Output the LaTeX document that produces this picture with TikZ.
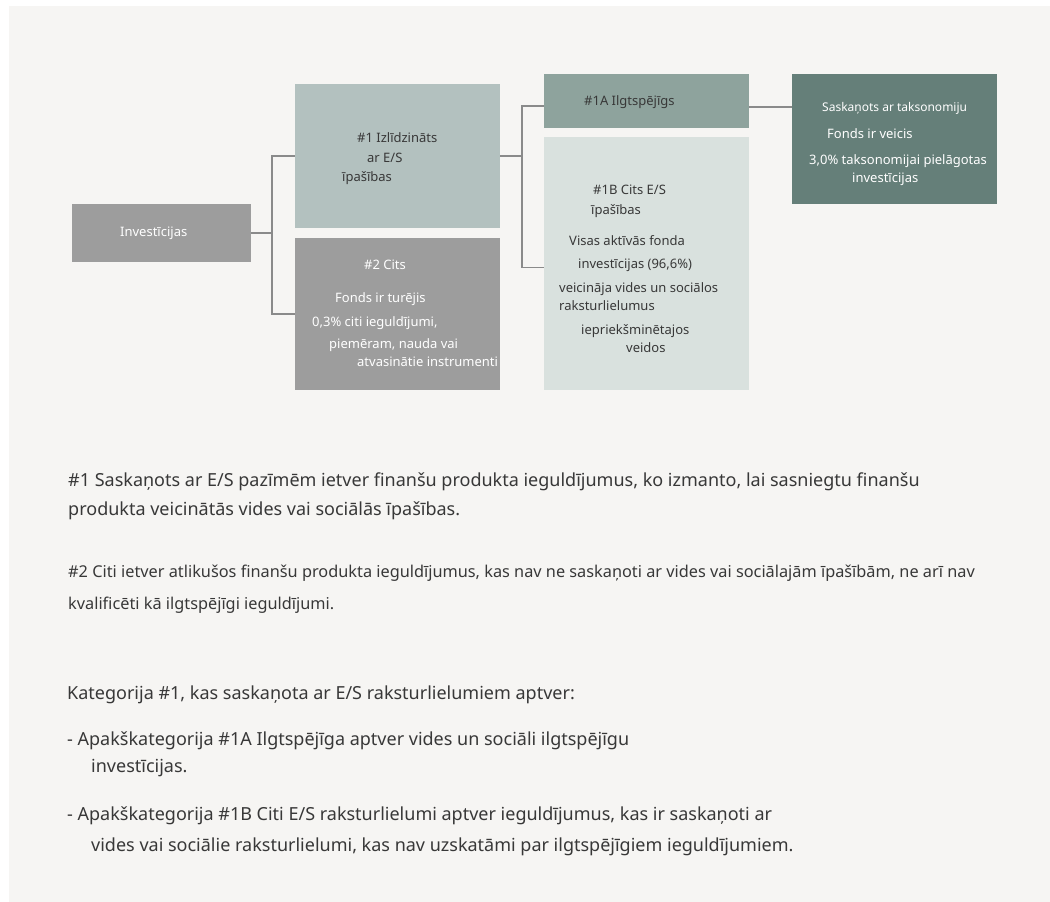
\documentclass[tikz,border=0pt]{standalone}
\usepackage{fontspec}
\setmainfont{Noto Sans}
\definecolor{panelbg}{HTML}{F6F5F3}
\definecolor{boxgray}{HTML}{9D9D9D}
\definecolor{boxsage}{HTML}{B3C1BF}
\definecolor{boxmint}{HTML}{8EA39D}
\definecolor{boxpale}{HTML}{D9E1DE}
\definecolor{boxpine}{HTML}{657F79}
\definecolor{linegray}{HTML}{8A8A8A}
\definecolor{inkdark}{HTML}{383838}

\begin{document}
\begin{tikzpicture}[x=1pt,y=-1pt,
  box/.style={inner sep=0pt,outer sep=0pt},
  conn/.style={draw=linegray,line width=1.3pt},
  txt/.style={inner sep=0pt,text height=.75em,text depth=.25em,anchor=west,yshift=-3pt,font=\fontsize{13}{15}\selectfont},
  wtxt/.style={txt,text=white},
  dtxt/.style={txt,text=inkdark},
  body/.style={inner sep=0pt,text height=.75em,text depth=.25em,anchor=west,yshift=-3.5pt,text=inkdark,font=\fontsize{18}{21}\selectfont},
  note/.style={body,font=\fontsize{16.3}{19}\selectfont}]
\useasboundingbox (0,0) rectangle (1050,902);
\fill[panelbg] (9,6) rectangle (1050,902);
% boxes
\node[box,fill=boxgray,minimum width=179pt,minimum height=58pt] (inv) at (161.5,233) {};
\node[box,fill=boxsage,minimum width=205pt,minimum height=144pt] (es) at (397.5,156) {};
\node[box,fill=boxgray,minimum width=205pt,minimum height=152pt] (oth) at (397.5,314) {};
\node[box,fill=boxmint,minimum width=205pt,minimum height=54pt] (s1a) at (646.5,101) {};
\node[box,fill=boxpale,minimum width=205pt,minimum height=253pt] (s1b) at (646.5,263.5) {};
\node[box,fill=boxpine,minimum width=205pt,minimum height=130pt] (tax) at (894.5,139) {};
% connectors
\draw[conn] (inv.east) -- ++(21,0) coordinate (j1) |- (es.west);
\draw[conn] (j1) |- (oth.west);
\draw[conn] (es.east) -- ++(22,0) coordinate (j2) |- ([yshift=-5pt]s1a.west);
\draw[conn] (j2) |- ([yshift=-4pt]s1b.west);
\draw[conn] ([yshift=-6pt]s1a.east) -- ([yshift=-6pt]s1a.east -| tax.west);
% box texts
\node[wtxt] (inv-t) at (120,231) {Investīcijas};
\node[dtxt] (es-t1) at (357,137) {\#1 Izlīdzināts};
\node[dtxt] (es-t2) at (367,157) {ar E/S};
\node[dtxt] (es-t3) at (342,176) {īpašības};
\node[wtxt] (oth-t1) at (364,264) {\#2 Cits};
\node[wtxt] (oth-t2) at (335,297) {Fonds ir turējis};
\node[wtxt] (oth-t3) at (312,321) {0,3\% citi ieguldījumi,};
\node[wtxt] (oth-t4) at (329,343) {piemēram, nauda vai};
\node[wtxt] (oth-t5) at (357,361) {atvasinātie instrumenti};
\node[dtxt] (s1a-t) at (584,100) {\#1A Ilgtspējīgs};
\node[wtxt,font=\fontsize{12}{14}\selectfont] (tax-t1) at (822,106) {Saskaņots ar taksonomiju};
\node[wtxt] (tax-t2) at (827,133) {Fonds ir veicis};
\node[wtxt] (tax-t3) at (809,159) {3,0\% taksonomijai pielāgotas};
\node[wtxt] (tax-t4) at (852,177) {investīcijas};
\node[dtxt] (s1b-t1) at (593,189) {\#1B Cits E/S};
\node[dtxt] (s1b-t2) at (591,209) {īpašības};
\node[dtxt] (s1b-t3) at (569,240) {Visas aktīvās fonda};
\node[dtxt] (s1b-t4) at (578,263) {investīcijas (96,6\%)};
\node[dtxt] (s1b-t5) at (559,287) {veicināja vides un sociālos};
\node[dtxt] (s1b-t6) at (559,305) {raksturlielumus};
\node[dtxt] (s1b-t7) at (581,329) {iepriekšminētajos};
\node[dtxt] (s1b-t8) at (626,347) {veidos};
% notes below
\node[body] (n1a) at (68,480) {\#1 Saskaņots ar E/S pazīmēm ietver finanšu produkta ieguldījumus, ko izmanto, lai sasniegtu finanšu};
\node[body] (n1b) at (68,509) {produkta veicinātās vides vai sociālās īpašības.};
\node[note] (n2a) at (68,571) {\#2 Citi ietver atlikušos finanšu produkta ieguldījumus, kas nav ne saskaņoti ar vides vai sociālajām īpašībām, ne arī nav};
\node[note] (n2b) at (68,603) {kvalificēti kā ilgtspējīgi ieguldījumi.};
\node[body] (k0) at (67,693) {Kategorija \#1, kas saskaņota ar E/S raksturlielumiem aptver:};
\node[body] (k1a) at (67,739) {- Apakškategorija \#1A Ilgtspējīga aptver vides un sociāli ilgtspējīgu};
\node[body] (k1b) at (91,766) {investīcijas.};
\node[body] (k2a) at (67,814) {- Apakškategorija \#1B Citi E/S raksturlielumi aptver ieguldījumus, kas ir saskaņoti ar};
\node[body] (k2b) at (91,845) {vides vai sociālie raksturlielumi, kas nav uzskatāmi par ilgtspējīgiem ieguldījumiem.};
\end{tikzpicture}
\end{document}
